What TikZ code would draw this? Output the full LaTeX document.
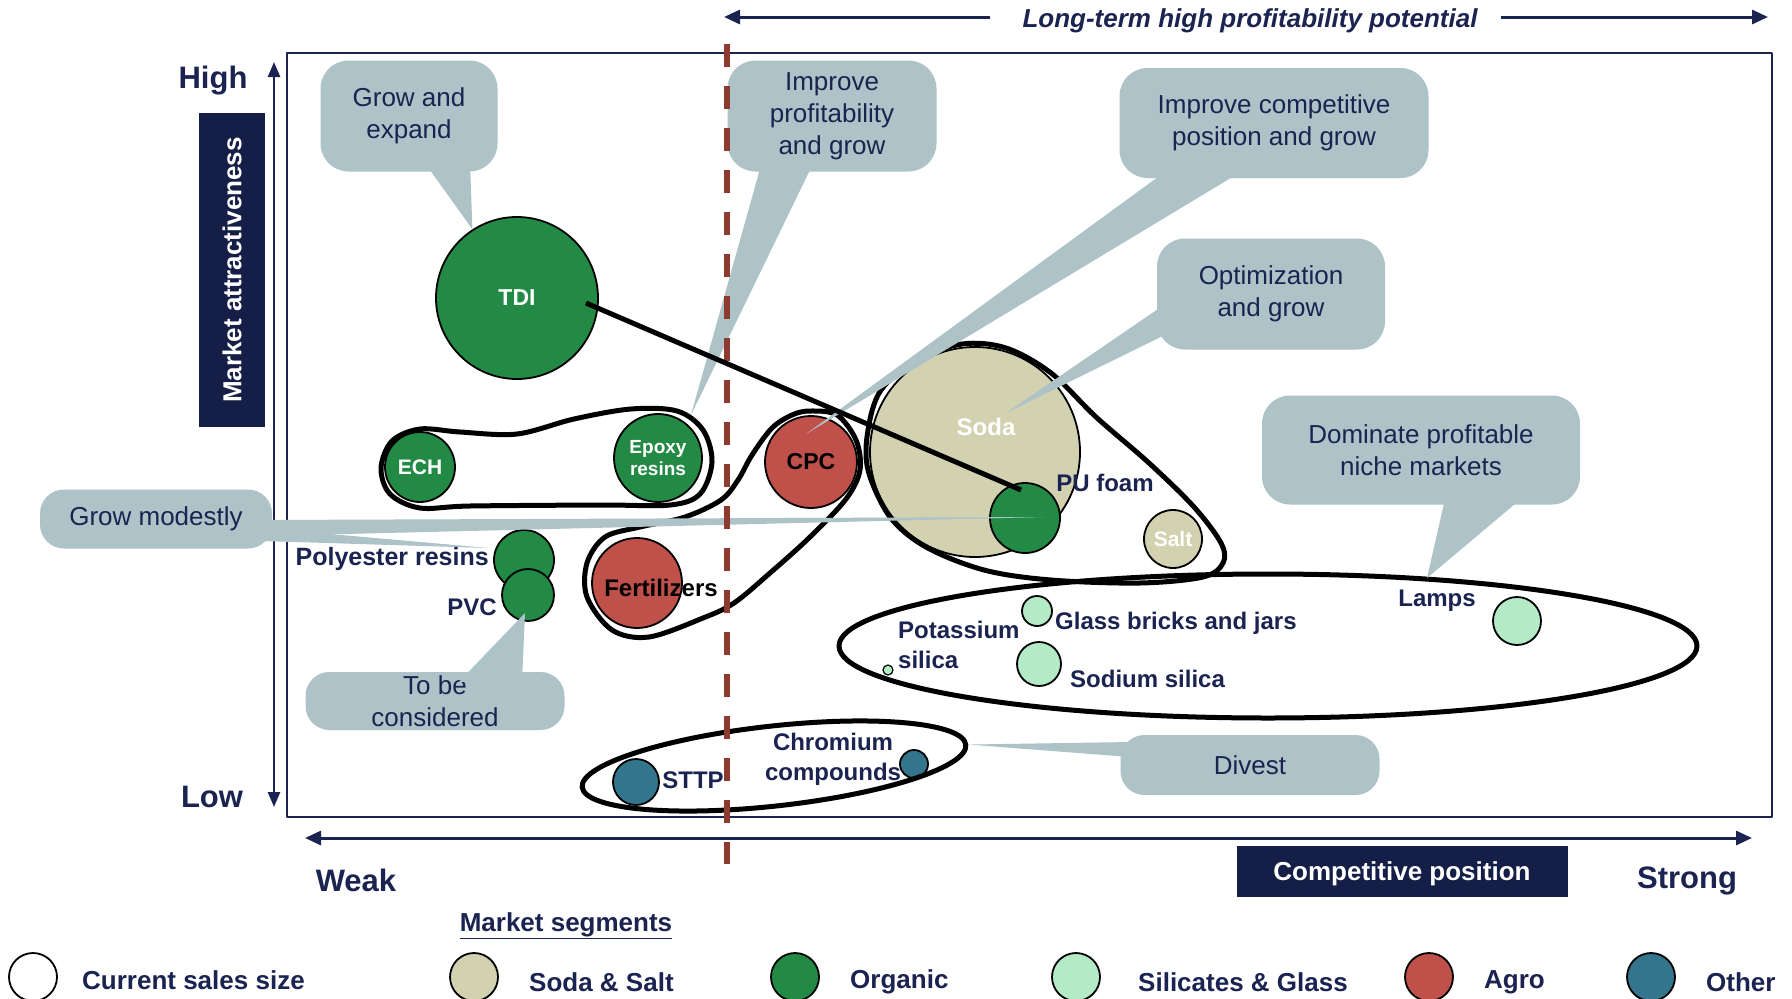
\documentclass[tikz,border=0pt]{standalone}
\usepackage{fontspec}
\setmainfont{Liberation Sans}
\usetikzlibrary{arrows.meta, positioning, calc, shapes.geometric}
\definecolor{Navy}{HTML}{1B2350}
\definecolor{BoxNavy}{HTML}{141E46}
\definecolor{CallGray}{HTML}{ADC3C8}
\definecolor{OrgGreen}{HTML}{238A45}
\definecolor{SodaBeige}{HTML}{D2D2B0}
\definecolor{SilGreen}{HTML}{B3EBC7}
\definecolor{AgroRed}{HTML}{C0504A}
\definecolor{OtherTeal}{HTML}{33758C}
\definecolor{DashRed}{HTML}{8E3A2E}

\tikzset{
  bubble/.style={circle, draw=black, line width=1.8pt, inner sep=0pt, minimum size=#1},
  orgb/.style={bubble=#1, fill=OrgGreen},
  sodab/.style={bubble=#1, fill=SodaBeige},
  silb/.style={bubble=#1, fill=SilGreen},
  agrob/.style={bubble=#1, fill=AgroRed},
  othb/.style={bubble=#1, fill=OtherTeal},
  inlbl/.style={font=\bfseries\fontsize{23}{21}\selectfont, text=white, align=center},
  lbl/.style={font=\bfseries\fontsize{24}{30}\selectfont, text=Navy, inner sep=0pt},
  blob/.style={draw=black, line width=5pt},
  callout/.style={rectangle, rounded corners=28pt, fill=CallGray, text=Navy, align=center,
    inner sep=0pt, font=\fontsize{26}{32}\selectfont},
  calloutTail/.style={fill=CallGray},
  axisline/.style={draw=Navy, line width=3pt},
  navybox/.style={fill=BoxNavy, text=white, font=\bfseries\fontsize{26}{30}\selectfont, inner sep=0pt},
  endword/.style={font=\bfseries\fontsize{31}{31}\selectfont, text=Navy},
  legtxt/.style={font=\bfseries\fontsize{26}{26}\selectfont, text=Navy, anchor=west, inner sep=0pt},
}

\begin{document}
\begin{tikzpicture}[x=1pt, y=-1pt, line join=round]
\fill[white] (0,0) rectangle (1792,999);
\useasboundingbox (0,0) rectangle (1792,999);

% frame and axes
\draw[Navy, line width=2pt] (287,53) rectangle (1772,817);
\coordinate (attrTop) at (274,62);
\coordinate (attrBot) at (274,807);
\draw[axisline, line width=2.5pt, {Triangle[length=15pt,width=12pt]}-{Triangle[length=15pt,width=12pt]}] (attrTop) -- (attrBot);
\coordinate (posL) at (305,838);
\coordinate (posR) at (1752,838);
\draw[axisline, {Triangle[length=16pt,width=14pt]}-{Triangle[length=16pt,width=14pt]}] (posL) -- (posR);

\node[endword] (high) at (213,81) {High};
\node[endword] (low) at (212,797) {Low};
\node[endword] (weak) at (356,880) {Weak};
\node[endword] (strong) at (1687,881) {Strong};
\node[navybox, rotate=90, minimum width=314, minimum height=66] (mattr) at (232,270) {Market attractiveness};
\node[navybox, minimum width=331, minimum height=51] (cpos) at (1402,871) {};
\node[navybox, fill=none] (cposTxt) at ($(cpos.center)+(0,3)$) {Competitive position};

% top arrow
\node[font=\bfseries\itshape\fontsize{26}{26}\selectfont, text=Navy, inner sep=0pt] (ltp) at (1250,21) {Long-term high profitability potential};
\coordinate (topL) at (724,17);
\coordinate (topR) at (1768,17);
\draw[axisline, -{Triangle[length=16pt,width=14pt]}] ($(ltp.west)+(-32,-4)$) -- (topL);
\draw[axisline, -{Triangle[length=16pt,width=14pt]}] ($(ltp.east)+(23,-4)$) -- (topR);

% bubbles
\node[orgb=162, inlbl] (tdi) at (517,298) {TDI};
\node[orgb=70, inlbl, font=\bfseries\fontsize{21}{21}\selectfont] (ech) at (420,467) {ECH};
\node[orgb=88, inlbl, font=\bfseries\fontsize{19}{22}\selectfont] (epoxy) at (658,458) {Epoxy\\resins};
\node[agrob=92, inlbl, text=black] (cpc) at (811,462) {CPC};
\node[sodab=210] (soda) at (975,452) {};
\node[orgb=70] (pufoam) at (1025,518) {};
\node[sodab=58, inlbl, font=\bfseries\fontsize{21}{21}\selectfont] (salt) at (1173,539) {Salt};
\node[agrob=90] (fert) at (637,583) {};
\node[orgb=60] (polyres) at (524,560) {};
\node[orgb=52] (pvc) at (528,595) {};
\node[othb=46] (sttp) at (636,782) {};
\node[othb=28] (chrom) at (914,764) {};
\node[silb=10, line width=1.2pt] (potsil) at (888,670) {};
\node[silb=30] (glass) at (1037,611) {};
\node[silb=44] (sodsil) at (1039,664) {};
\node[silb=48] (lamps) at (1517,621) {};

% groupings
\draw[blob] plot[smooth cycle, tension=0.55] coordinates {(381,468) (392,441) (420,429) (460,432) (517,434) (574,419) (631,409) (677,411) (703,430) (712,462) (700,494) (670,505) (600,505) (470,506) (420,508) (390,494)};
\draw[blob] plot[smooth cycle, tension=0.55] coordinates {(810,411) (837,415) (856,440) (860,470) (846,499) (810,537) (770,573) (734,603) (703,618) (649,637) (612,630) (587,597) (587,563) (605,537) (640,527) (685,517) (721,500) (738,480) (752,455) (772,428) (792,415)};
\draw[blob] plot[smooth cycle, tension=0.55] coordinates {(868,470) (868,430) (881,390) (917,360) (962,344) (1006,348) (1051,373) (1096,417) (1149,463) (1194,507) (1221,543) (1223,563) (1203,577) (1140,583) (1051,580) (984,570) (926,547) (890,517)};
\node[blob, ellipse, minimum width=858, minimum height=144, inner sep=0pt] (grpSil) at (1268,646) {};
\node[blob, ellipse, rotate=6.3, minimum width=386, minimum height=80, inner sep=0pt] (grpOther) at (774,766) {};

% callouts
\coordinate (epoxyTip) at (691,415);
\coordinate (cpcTip) at (806,434);
\coordinate (sodaTip) at (1006,413);
\coordinate (silTip) at (1427,578);
\coordinate (puTip) at (1044,517);
\coordinate (polyTip) at (488,548);
\coordinate (pvcTip) at (525,613);

\node[callout, minimum width=177, minimum height=111] (growexp) at (409,116) {Grow and\\expand};
\fill[calloutTail] ($(growexp.south)+(15,-10)$) -- (tdi.123) -- ($(growexp.south)+(61,-10)$) -- cycle;

\node[callout, minimum width=209, minimum height=111] (impprof) at (832,116) {Improve\\profitability\\and grow};
\fill[calloutTail] ($(impprof.south)+(-70,-10)$) -- (epoxyTip) -- ($(impprof.south)+(-18,-10)$) -- cycle;

\node[callout, minimum width=309, minimum height=110] (impcomp) at (1274,123) {Improve competitive\\position and grow};
\fill[calloutTail] ($(impcomp.south)+(-104,-10)$) -- (cpcTip) -- ($(impcomp.south)+(-27,-10)$) -- cycle;

\node[callout, minimum width=228, minimum height=111] (optim) at (1271,294) {Optimization\\and grow};
\fill[calloutTail] ($(optim.west)+(10,9)$) -- (sodaTip) -- ($(optim.west)+(10,40)$) -- cycle;

\node[callout, minimum width=318, minimum height=109] (domin) at (1421,450) {Dominate profitable\\niche markets};
\fill[calloutTail] ($(domin.south)+(25,-10)$) -- (silTip) -- ($(domin.south)+(105,-10)$) -- cycle;

\node[callout, minimum width=232, minimum height=59, rounded corners=24pt] (growmod) at (156,519) {Grow modestly};
\fill[calloutTail] ($(growmod.east)+(-10,1)$) -- (puTip) -- ($(growmod.east)+(-10,17)$) -- cycle;
\fill[calloutTail] ($(growmod.east)+(-10,9)$) -- (polyTip) -- ($(growmod.east)+(-10,22)$) -- cycle;

\node[callout, minimum width=259, minimum height=58, rounded corners=24pt] (tobecons) at (435,701) {To be\\considered};
\fill[calloutTail] ($(tobecons.north)+(24,10)$) -- (pvcTip) -- ($(tobecons.north)+(87,10)$) -- cycle;

\node[callout, minimum width=259, minimum height=60, rounded corners=24pt] (divest) at (1250,765) {Divest};
\fill[calloutTail] ($(divest.west)+(10,-23)$) -- (grpOther.east) -- ($(divest.west)+(10,-8)$) -- cycle;

% boundary of long-term potential
\coordinate (dashTop) at (727,44);
\coordinate (dashBot) at (727,864);
\draw[DashRed, line width=6pt, dash pattern=on 23pt off 19pt] (dashTop) -- (dashBot);

% TDI to PU foam
\draw[line width=5pt] ($(tdi.center)+(69,5)$) -- ($(pufoam.center)+(-4,-28)$);

% labels
\node[lbl, text=white] (sodaLbl) at (986,427) {Soda};
\node[lbl] (puLbl) at (1105,483) {PU foam};
\node[lbl, text=black] (fertLbl) at (661,588) {Fertilizers};
\node[lbl, anchor=east, font=\bfseries\fontsize{25}{30}\selectfont] (polyLbl) at (489,559) {Polyester resins};
\node[lbl] (pvcLbl) at (472,607) {PVC};
\node[lbl, anchor=west, align=left] (potLbl) at (898,645) {Potassium\\silica};
\node[lbl, anchor=west] (glassLbl) at (1055,623) {Glass bricks and jars};
\node[lbl, anchor=west] (sodsilLbl) at (1070,679) {Sodium silica};
\node[lbl] (lampsLbl) at (1437,601) {Lamps};
\node[lbl] (sttpLbl) at (693,780) {STTP};
\node[lbl, align=center] (chromLbl) at (833,759) {Chromium\\compounds};

% legend
\node[font=\bfseries\fontsize{26}{26}\selectfont, text=Navy] (mseg) at (566,926) {\underline{Market segments}};
\node[bubble=48, fill=white] (legSize) at (33,977) {};
\node[legtxt] at (82,980) {Current sales size};
\node[sodab=48] (legSoda) at (474,977) {};
\node[legtxt] at (529,982) {Soda \& Salt};
\node[orgb=48] (legOrg) at (795,977) {};
\node[legtxt] at (850,982) {Organic};
\node[silb=48] (legSil) at (1076,977) {};
\node[legtxt] at (1138,982) {Silicates \& Glass};
\node[agrob=48] (legAgro) at (1429,977) {};
\node[legtxt] at (1484,982) {Agro};
\node[othb=48] (legOth) at (1651,977) {};
\node[legtxt] at (1706,982) {Other};
\end{tikzpicture}
\end{document}
